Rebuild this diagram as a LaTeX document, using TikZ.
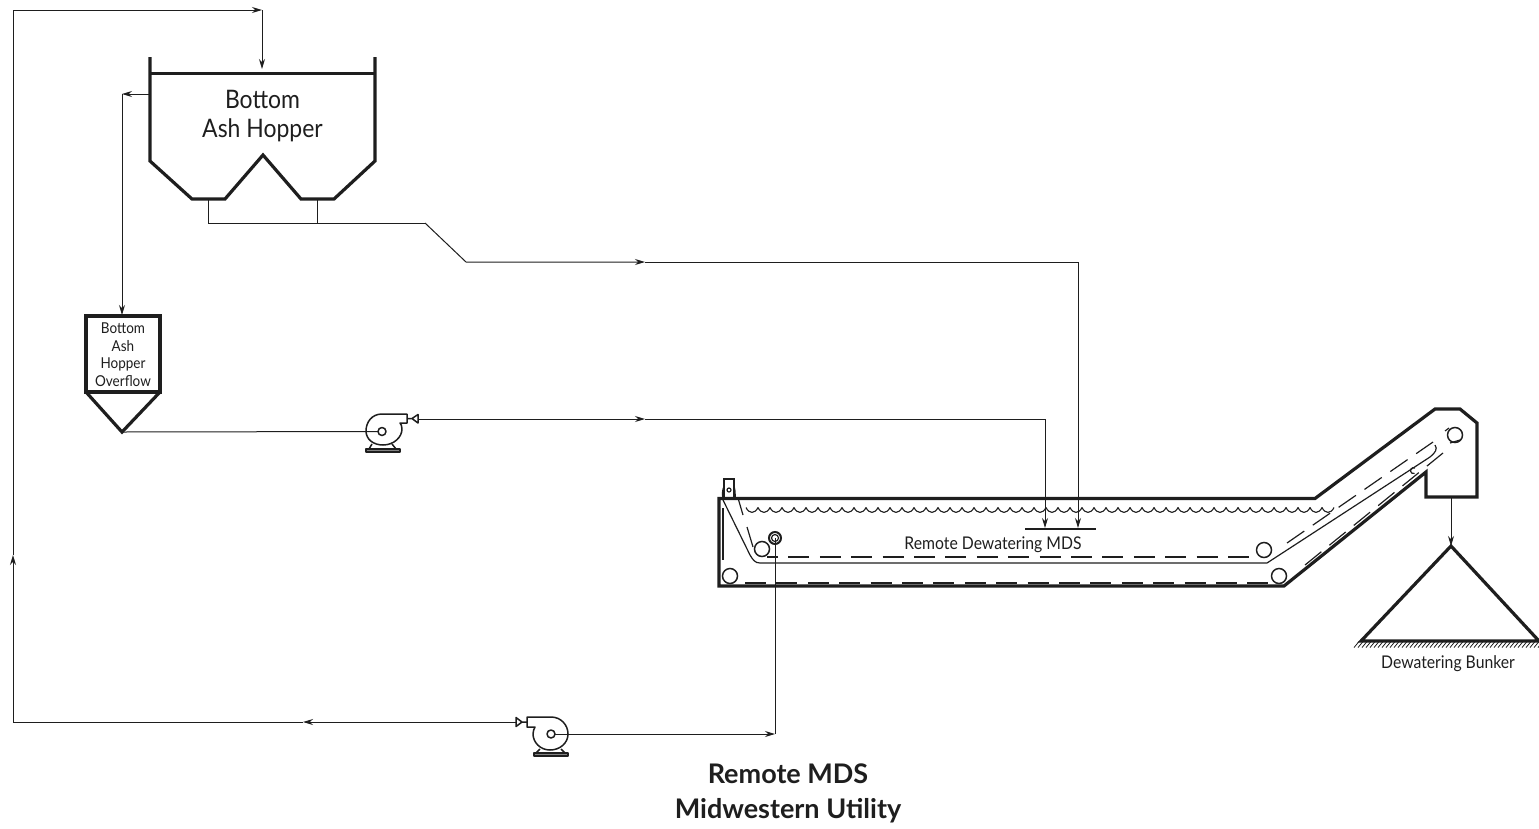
\documentclass[tikz,border=0pt]{standalone}
\usepackage{fontspec}
\setmainfont{Lato}
\newfontfamily\narrowfont[FakeStretch=0.9]{Lato}
\usetikzlibrary{arrows.meta}
\definecolor{ink}{HTML}{1E1E1E}
\tikzset{
  flow/.style={draw=ink,line width=1pt,line join=miter},
  flowarrow/.style={flow,-{Stealth[length=10pt,width=6pt]}},
  heavy/.style={draw=ink,line width=3.2pt,line join=miter},
  mech/.style={draw=ink,line width=1.2pt},
  belt/.style={draw=ink,line width=1.2pt,dash pattern=on 21pt off 10.4pt},
  label/.style={inner sep=0pt,text=ink,align=center},
  pumpbody/.style={draw=ink,line width=1.5pt,line join=round},
}
\begin{document}
\begin{tikzpicture}[x=1pt,y=-1pt]
\useasboundingbox (0,0) rectangle (1539,828);
% ---------- coordinates ----------
\coordinate (loopA) at (13,722);
\coordinate (loopUp) at (13,555);
\coordinate (loopB) at (13,10);
\coordinate (topMid) at (262,10);
\coordinate (hopIn) at (262,69);
\coordinate (ovA) at (150,94);
\coordinate (ovB) at (122,94);
\coordinate (ovC) at (122,315);
\coordinate (ovApex) at (122,432);
\coordinate (p1c) at (382,431.5);
\coordinate (p1in) at (418,419);
\coordinate (p1mid) at (645,419);
\coordinate (p1corner) at (1045,419);
\coordinate (sprayA) at (1045,528);
\coordinate (outA) at (208,199);
\coordinate (outAj) at (208,223);
\coordinate (outB) at (317,199);
\coordinate (outBj) at (317,223);
\coordinate (bend1) at (425,223);
\coordinate (bend2) at (466,262);
\coordinate (mainMid) at (645,262);
\coordinate (mainCorner) at (1078,262);
\coordinate (sprayB) at (1078,528);
\coordinate (p2c) at (551,734);
\coordinate (p2out) at (516,722);
\coordinate (retMid) at (303,722);
\coordinate (drainCorner) at (775,734);
\coordinate (drainTop) at (775,538);
\coordinate (chute) at (1451,497);
\coordinate (bunkerTop) at (1451,546);
% ---------- hopper ----------
\draw[heavy] (150,57) -- (150,161) -- (192,199) -- (225,199) -- (263,155) -- (301,199) -- (334,199) -- (375,161) -- (375,57);
\draw[heavy] (150,73.5) -- (375,73.5);
\node[label,font=\narrowfont\fontsize{25.5}{29}\selectfont] (hopperText) at (262.5,116) {Bottom\\Ash Hopper};
% ---------- overflow tank ----------
\draw[heavy] (86,392) rectangle (160,316);
\draw[heavy] (86,392) -- (122,432) -- (160,392);
\node[label,font=\narrowfont\fontsize{15}{17.5}\selectfont] (overflowText) at (123,354.5) {Bottom\\Ash\\Hopper\\Overflow};
% ---------- piping ----------
\draw[flowarrow] (loopA) -- (loopUp);
\draw[flowarrow] (loopUp) -- (loopB) -- (topMid);
\draw[flowarrow] (topMid) -- (hopIn);
\draw[flowarrow] (ovA) -- (ovB);
\draw[flowarrow] (ovB) -- (ovC);
\draw[flow] (ovApex) -- (p1c);
\draw[flowarrow] (p1in) -- (p1mid);
\draw[flowarrow] (p1mid) -- (p1corner) -- (sprayA);
\draw[flow] (outA) -- (outAj) -- (bend1);
\draw[flow] (outB) -- (outBj);
\draw[flowarrow] (bend1) -- (bend2) -- (mainMid);
\draw[flowarrow] (mainMid) -- (mainCorner) -- (sprayB);
\draw[flowarrow] (p2c) -- (drainCorner);
\draw[flow] (drainCorner) -- (drainTop);
\draw[flowarrow] (p2out) -- (retMid);
\draw[flow] (retMid) -- (loopA);
\draw[flowarrow] (chute) -- (bunkerTop);
\draw[mech] (1025,529) -- (1096,529);
% ---------- pump 1 ----------
\draw[pumpbody] (407,414) -- (382,414) .. controls (372,414) and (366,422) .. (366,431) .. controls (366,439) and (373,445) .. (383,445) .. controls (394,445) and (402,437) .. (402,429) .. controls (402,426) and (401,424) .. (400,423) -- (407,423) -- cycle;
\draw[pumpbody,fill=white] (382,431.5) circle[radius=4];
\draw[pumpbody] (372,444) -- (369,449) (392,444) -- (396,449);
\draw[pumpbody,line width=1.2pt,fill=ink!55] (366,449) rectangle (400,452);
\draw[pumpbody,fill=white] (407,418.5) -- (412,418.5) -- (418,414.5) -- (418,423) -- (412,418.5);
% ---------- pump 2 ----------
\draw[pumpbody] (527,717) -- (551,717) .. controls (561,717) and (568,725) .. (568,734) .. controls (568,743) and (560,750) .. (550,750) .. controls (540,750) and (533,742) .. (533,734) .. controls (533,731) and (534,729) .. (535,727) -- (527,727) -- cycle;
\draw[pumpbody,fill=white] (551,734) circle[radius=4];
\draw[pumpbody] (540,749) -- (536,753) (561,749) -- (565,753);
\draw[pumpbody,line width=1.2pt,fill=ink!55] (534,753) rectangle (568,756);
\draw[pumpbody,fill=white] (527,722) -- (522,722) -- (516,717.5) -- (516,726.5) -- (522,722);
% ---------- dewatering MDS casing ----------
\draw[heavy] (719,498.5) -- (1315,498.5) -- (1435,409) -- (1460,409) -- (1477,423) -- (1477,497) -- (1426,497) -- (1426,472) -- (1284,586) -- (719,586) -- cycle;
\draw[mech] (724,499) -- (724,479) -- (734,479) -- (734,499);
\draw[mech] (729,490) circle[radius=2];
\draw[mech,line width=1.6pt] (724,487) .. controls (722.5,490) and (722.5,494) .. (723,498);
\draw[mech,line width=1.6pt] (734,487) .. controls (735,490) and (735,494) .. (735,498);
% inner wall
\draw[mech] (723,500) -- (750,555) .. controls (753,560) and (755,563) .. (760,563) -- (1267,563) -- (1430,457) .. controls (1435,453) and (1438,449) .. (1435,445);
% water surface
\foreach \i in {0,...,48}{
  \draw[mech,line width=1.1pt] ({746+12*\i},507.5) .. controls ({749+12*\i},514) and ({755+12*\i},514) .. ({758+12*\i},507.5);
}
% rollers
\foreach \n/\cx/\cy in {ra/762/549,rb/730/576,rc/1264/550,rd/1279/576,re/1455/435}{
  \draw[mech,line width=1.5pt] (\cx,\cy) circle[radius=7.5];
}
\draw[mech,line width=2pt] (775,538) circle[radius=6];
\draw[mech] (775,538) circle[radius=3.5];
\draw[mech] (1415,468) arc[start angle=-60,end angle=-290,radius=3];
% dashed belts
\draw[belt,dash phase=10pt] (767,557) -- (1249,557);
\draw[belt] (1287,543) -- (1433,442);
\draw[belt] (745,583) -- (1270,583);
\draw[belt] (1305,565) -- (1443,453);
\draw[mech] (738,498) -- (743,515);
\draw[mech] (747,527) -- (753,547);
\draw[mech] (723,508) -- (723,560);
\draw[mech] (1445,431) -- (1449,428);
\draw[mech] (1450,443) -- (1460,440);
% ---------- bunker ----------
\draw[heavy] (bunkerTop) -- (1361,641) -- (1539,641) -- cycle;
\foreach \i in {0,...,46}{
  \draw[draw=ink,line width=0.8pt] ({1354+4*\i},647.5) -- ({1359+4*\i},641.5);
}
% ---------- texts ----------
\node[label,font=\narrowfont\fontsize{17.5}{20}\selectfont] (mdsText) at (993,545) {Remote Dewatering MDS};
\node[label,font=\narrowfont\fontsize{17.5}{20}\selectfont] (bunkerText) at (1448,664) {Dewatering Bunker};
\node[label,font=\bfseries\fontsize{27}{35}\selectfont] (title) at (788,793) {Remote MDS\\Midwestern Utility};
\end{tikzpicture}
\end{document}
